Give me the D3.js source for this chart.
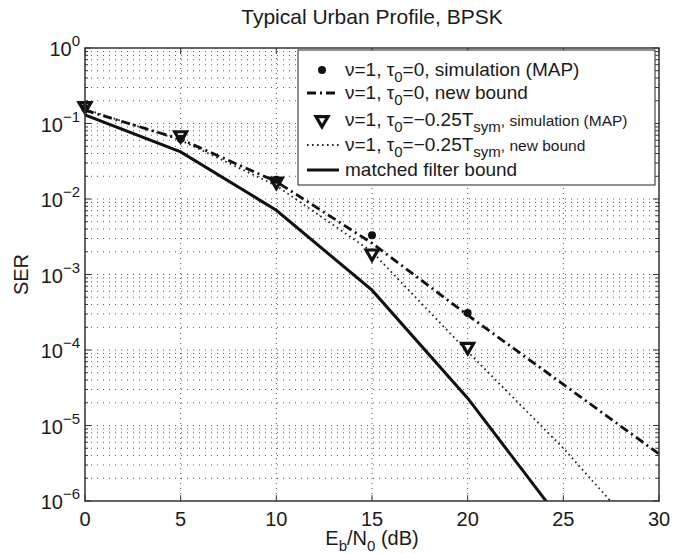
<head>
	<script src="https://d3js.org/d3.v7.min.js"></script>
	<style>
		body { margin: 0; background: #fff; }
		text { font-family: 'Liberation Sans', Arial, sans-serif; fill: #1a1a1a; }
	</style>
</head>
<body>
	<div id='chart'></div>

	<script type="text/javascript">
		// Eb/N0 (dB) and SER values
		const ebn0 = [0, 5, 10, 15, 20, 25, 30]
		const newBound0 = [0.15, 0.062, 0.017, 2.6e-3, 2.9e-4, 3.5e-5, 4.2e-6]
		const newBound25 = [0.155, 0.06, 0.015, 2.0e-3, 9.5e-5, 5e-6, 1.9e-7]
		const mfX = [0, 5, 10, 15, 20, 25]
		const mfBound = [0.13, 0.042, 0.0071, 6.2e-4, 2.3e-5, 5e-7]
		const simX = [0, 5, 10, 15, 20]
		const sim0 = [0.16, 0.063, 0.018, 3.3e-3, 3.1e-4]
		const sim25 = [0.17, 0.07, 0.017, 1.9e-3, 1.1e-4]

		const xTicks = [0, 5, 10, 15, 20, 25, 30]
		const yExps = [0, -1, -2, -3, -4, -5, -6]

		const W = 684, H = 554
		const m = {t:48, r:25, b:53, l:85}
		const w = W - m.l - m.r
		const h = H - m.t - m.b

		const svg = d3.select('#chart').append('svg')
			.attr('width', W)
			.attr('height', H)

		const g = svg.append('g')
			.attr('transform', 'translate('+m.l+','+m.t+')')

		const sX = d3.scaleLinear().domain([0, 30]).range([0, w])
		const sY = d3.scaleLog().domain([1e-6, 1]).range([h, 0])

		// minor + major y values
		const yMinor = []
		for (let e = -6; e < 0; e++) {
			for (let k = 2; k <= 9; k++) yMinor.push(k * Math.pow(10, e))
		}
		const yMajor = yExps.map(e => Math.pow(10, e))

		// grid
		g.append('g').selectAll('line')
			.data(yMinor.concat(yMajor.slice(1, -1)))
			.enter().append('line')
			.attr('x1', 0).attr('x2', w)
			.attr('y1', d => sY(d)).attr('y2', d => sY(d))
			.style('stroke', '#555')
			.style('stroke-width', 1)
			.style('stroke-dasharray', '1,5')

		g.append('g').selectAll('line')
			.data(xTicks.slice(1, -1))
			.enter().append('line')
			.attr('x1', d => sX(d)).attr('x2', d => sX(d))
			.attr('y1', 0).attr('y2', h)
			.style('stroke', '#555')
			.style('stroke-width', 1)
			.style('stroke-dasharray', '1,4')

		// ticks inside the box, both sides
		const tickG = g.append('g').style('stroke', '#333').style('stroke-width', 1)
		xTicks.forEach(d => {
			tickG.append('line').attr('x1', sX(d)).attr('x2', sX(d)).attr('y1', h).attr('y2', h-6)
			tickG.append('line').attr('x1', sX(d)).attr('x2', sX(d)).attr('y1', 0).attr('y2', 6)
		})
		yMajor.forEach(d => {
			tickG.append('line').attr('x1', 0).attr('x2', 6).attr('y1', sY(d)).attr('y2', sY(d))
			tickG.append('line').attr('x1', w).attr('x2', w-6).attr('y1', sY(d)).attr('y2', sY(d))
		})
		yMinor.forEach(d => {
			tickG.append('line').attr('x1', 0).attr('x2', 3).attr('y1', sY(d)).attr('y2', sY(d))
			tickG.append('line').attr('x1', w).attr('x2', w-3).attr('y1', sY(d)).attr('y2', sY(d))
		})

		// curves
		g.append('clipPath').attr('id', 'clip')
			.append('rect').attr('width', w).attr('height', h)

		const line = d3.line().x(d => sX(d[0])).y(d => sY(d[1]))
		const curves = g.append('g').attr('clip-path', 'url(#clip)')

		curves.append('path')
			.attr('d', line(mfX.map((x, i) => [x, mfBound[i]])))
			.style('fill', 'none').style('stroke', '#111').style('stroke-width', 3)

		curves.append('path')
			.attr('d', line(ebn0.map((x, i) => [x, newBound25[i]])))
			.style('fill', 'none').style('stroke', '#222').style('stroke-width', 1.8)
			.style('stroke-dasharray', '1.6,3.4')

		curves.append('path')
			.attr('d', line(ebn0.map((x, i) => [x, newBound0[i]])))
			.style('fill', 'none').style('stroke', '#111').style('stroke-width', 2.8)
			.style('stroke-dasharray', '9,4,2,4')

		// markers
		const tri = d3.symbol().type(d3.symbolTriangle).size(62)
		g.append('g').selectAll('path')
			.data(simX.map((x, i) => [x, sim25[i]]))
			.enter().append('path')
			.attr('d', tri)
			.attr('transform', d => 'translate('+sX(d[0])+','+sY(d[1])+') rotate(180)')
			.style('fill', '#fff').style('stroke', '#111').style('stroke-width', 3.2)

		g.append('g').selectAll('circle')
			.data(simX.map((x, i) => [x, sim0[i]]))
			.enter().append('circle')
			.attr('cx', d => sX(d[0])).attr('cy', d => sY(d[1]))
			.attr('r', 4)
			.style('fill', '#111')

		// box
		g.append('rect')
			.attr('width', w).attr('height', h)
			.style('fill', 'none').style('stroke', '#333').style('stroke-width', 1.5)

		// tick labels
		g.append('g').selectAll('text')
			.data(xTicks)
			.enter().append('text')
			.attr('x', d => sX(d))
			.attr('y', h + 25)
			.attr('text-anchor', 'middle')
			.style('font-size', '20px')
			.text(d => d)

		const yl = g.append('g').selectAll('text')
			.data(yExps)
			.enter().append('text')
			.attr('x', -5)
			.attr('y', d => sY(Math.pow(10, d)) + 8)
			.attr('text-anchor', 'end')
			.style('font-size', '20px')
		yl.append('tspan').text('10')
		yl.append('tspan')
			.attr('dy', -10)
			.style('font-size', '15px')
			.text(d => d === 0 ? '0' : '\u2212' + (-d))

		// axis labels and title
		svg.append('text')
			.attr('x', m.l + w/2).attr('y', 24)
			.attr('text-anchor', 'middle')
			.style('font-size', '21px')
			.text('Typical Urban Profile, BPSK')

		svg.append('text')
			.attr('transform', 'translate(28,'+(m.t + h/2)+') rotate(-90)')
			.attr('text-anchor', 'middle')
			.style('font-size', '20px')
			.text('SER')

		const xl = svg.append('text')
			.attr('x', m.l + w/2).attr('y', 545)
			.attr('text-anchor', 'middle')
			.style('font-size', '20px')
		xl.append('tspan').text('E')
		xl.append('tspan').attr('dy', 6).style('font-size', '15px').text('b')
		xl.append('tspan').attr('dy', -6).text('/N')
		xl.append('tspan').attr('dy', 6).style('font-size', '15px').text('0')
		xl.append('tspan').attr('dy', -6).text(' (dB)')

		// legend
		const lg = svg.append('g')
		lg.append('rect')
			.attr('x', 298).attr('y', 50)
			.attr('width', 357).attr('height', 135)
			.style('fill', '#fff').style('stroke', '#222').style('stroke-width', 1)

		const legRows = [70, 93, 120, 145, 170]
		const lx = 345

		lg.append('circle').attr('cx', 322).attr('cy', legRows[0]).attr('r', 4).style('fill', '#111')
		lg.append('line').attr('x1', 307).attr('x2', 339).attr('y1', legRows[1]).attr('y2', legRows[1])
			.style('stroke', '#111').style('stroke-width', 2.8).style('stroke-dasharray', '9,4,2,4')
		lg.append('path').attr('d', tri)
			.attr('transform', 'translate(322,'+legRows[2]+') rotate(180)')
			.style('fill', '#fff').style('stroke', '#111').style('stroke-width', 3.2)
		lg.append('line').attr('x1', 307).attr('x2', 339).attr('y1', legRows[3]).attr('y2', legRows[3])
			.style('stroke', '#222').style('stroke-width', 1.8).style('stroke-dasharray', '1.6,3.4')
		lg.append('line').attr('x1', 307).attr('x2', 339).attr('y1', legRows[4]).attr('y2', legRows[4])
			.style('stroke', '#111').style('stroke-width', 3)

		function legText(y, parts) {
			const t = lg.append('text').attr('x', lx).attr('y', y + 6).style('font-size', '19px')
			let shift = 0
			parts.forEach(p => {
				const dy = (p.sub ? 6 : 0) - shift
				shift = p.sub ? 6 : 0
				const s = t.append('tspan').attr('dy', dy).text(p.t)
				if (p.sub) s.style('font-size', '15px')
				if (p.small) s.style('font-size', '15.5px')
			})
		}
		legText(legRows[0], [{t:'\u03bd=1, \u03c4'}, {t:'0', sub:true}, {t:'=0, simulation (MAP)'}])
		legText(legRows[1], [{t:'\u03bd=1, \u03c4'}, {t:'0', sub:true}, {t:'=0, new bound'}])
		legText(legRows[2], [{t:'\u03bd=1, \u03c4'}, {t:'0', sub:true}, {t:'=\u22120.25T'}, {t:'sym', sub:true}, {t:', simulation (MAP)', small:true}])
		legText(legRows[3], [{t:'\u03bd=1, \u03c4'}, {t:'0', sub:true}, {t:'=\u22120.25T'}, {t:'sym', sub:true}, {t:', new bound', small:true}])
		legText(legRows[4], [{t:'matched filter bound'}])
	</script>
</body>
